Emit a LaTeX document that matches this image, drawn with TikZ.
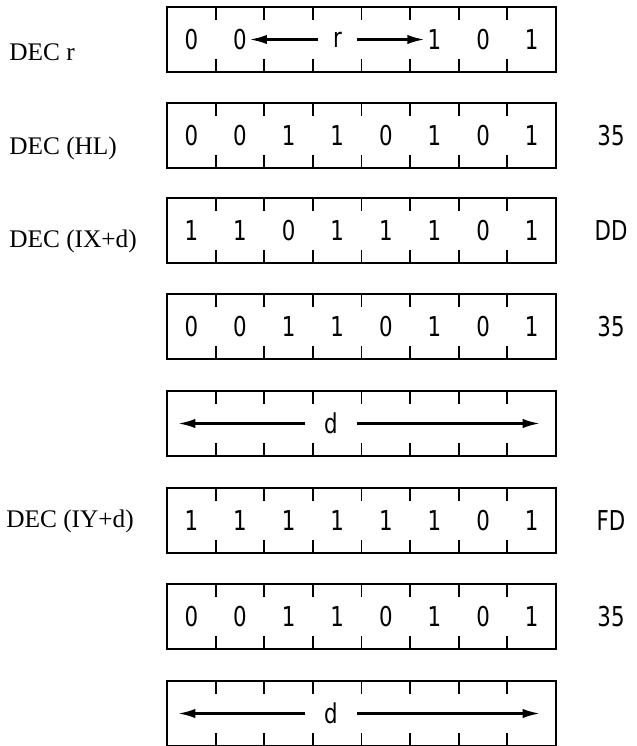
\documentclass[tikz,border=0pt]{standalone}
\usepackage{fontspec}
\setmainfont{Liberation Serif}
\newfontfamily\bitfont[FakeStretch=0.78]{DejaVu Sans}
\usetikzlibrary{arrows.meta, positioning, calc}

\tikzset{
  reg/.style={draw, line width=2.2pt, minimum width=291.75pt, minimum height=48.75pt, inner sep=0pt, outer sep=0pt},
  tick/.style={line width=1.4pt},
  bit/.style={font=\bitfont\fontsize{20.5}{20}\selectfont, inner sep=2pt},
  hex/.style={font=\bitfont\fontsize{20.5}{20}\selectfont},
  lbl/.style={font=\fontsize{19}{20}\selectfont, anchor=west, inner sep=0pt},
  arr/.style={line width=1.8pt, -{Latex[length=13pt,width=7pt]}},
}

\begin{document}
\begin{tikzpicture}[x=0.75pt, y=-0.75pt]
  \useasboundingbox (0,0) rectangle (636,746);

  % the eight byte boxes with their bit ticks
  \foreach \n/\y in {1/39.5, 2/135.5, 3/230.5, 4/326.5, 5/423.5, 6/520.5, 7/616.5, 8/713.5} {
    \node[reg] (row\n) at (361.5,\y) {};
    \foreach \i in {1,...,7} {
      \draw[tick] ($(row\n.north west)+(48.625*\i,0)$) -- ++(0,13);
      \draw[tick] ($(row\n.south west)+(48.625*\i,0)$) -- ++(0,-13);
    }
  }

  % instruction names
  \node[lbl] (decr) at (9,52) {DEC r};
  \node[lbl] (dechl) at (9,148) {DEC (HL)};
  \node[lbl] (decix) at (9,241) {DEC (IX+d)};
  \node[lbl] (deciy) at (6,521) {DEC (IY+d)};

  % DEC r
  \node[bit] (r1b1) at (191.3,39.5) {0};
  \node[bit] (r1b2) at (239.9,39.5) {0};
  \node[bit, inner xsep=11pt] (r1r) at (337.5,39.5) {r};
  \node[bit] (r1b6) at (434.4,39.5) {1};
  \node[bit] (r1b7) at (483.1,39.5) {0};
  \node[bit] (r1b8) at (531.7,39.5) {1};
  \draw[arr] (r1r) -- (r1b2);
  \draw[arr] (r1r) -- (r1b6);

  % opcode bytes
  \foreach \b [count=\i] in {0,0,1,1,0,1,0,1}
    \node[bit] (r2b\i) at ($(row2.west)+(48.625*\i-24.3,0)$) {\b};
  \foreach \b [count=\i] in {1,1,0,1,1,1,0,1}
    \node[bit] (r3b\i) at ($(row3.west)+(48.625*\i-24.3,0)$) {\b};
  \foreach \b [count=\i] in {0,0,1,1,0,1,0,1}
    \node[bit] (r4b\i) at ($(row4.west)+(48.625*\i-24.3,0)$) {\b};
  \foreach \b [count=\i] in {1,1,1,1,1,1,0,1}
    \node[bit] (r6b\i) at ($(row6.west)+(48.625*\i-24.3,0)$) {\b};
  \foreach \b [count=\i] in {0,0,1,1,0,1,0,1}
    \node[bit] (r7b\i) at ($(row7.west)+(48.625*\i-24.3,0)$) {\b};

  % displacement bytes
  \node[bit, inner xsep=14pt] (d5) at (331,423.5) {d};
  \coordinate (d5l) at (178,423.5);
  \coordinate (d5r) at (540,423.5);
  \draw[arr] (d5) -- (d5l);
  \draw[arr] (d5) -- (d5r);
  \node[bit, inner xsep=14pt] (d8) at (331,713.5) {d};
  \coordinate (d8l) at (178,713.5);
  \coordinate (d8r) at (540,713.5);
  \draw[arr] (d8) -- (d8l);
  \draw[arr] (d8) -- (d8r);

  % hex codes
  \node[hex] (hex2) at (611,136) {35};
  \node[hex] (hex3) at (611,231) {DD};
  \node[hex] (hex4) at (611,327) {35};
  \node[hex] (hex6) at (611,521) {FD};
  \node[hex] (hex7) at (611,617) {35};
\end{tikzpicture}
\end{document}
